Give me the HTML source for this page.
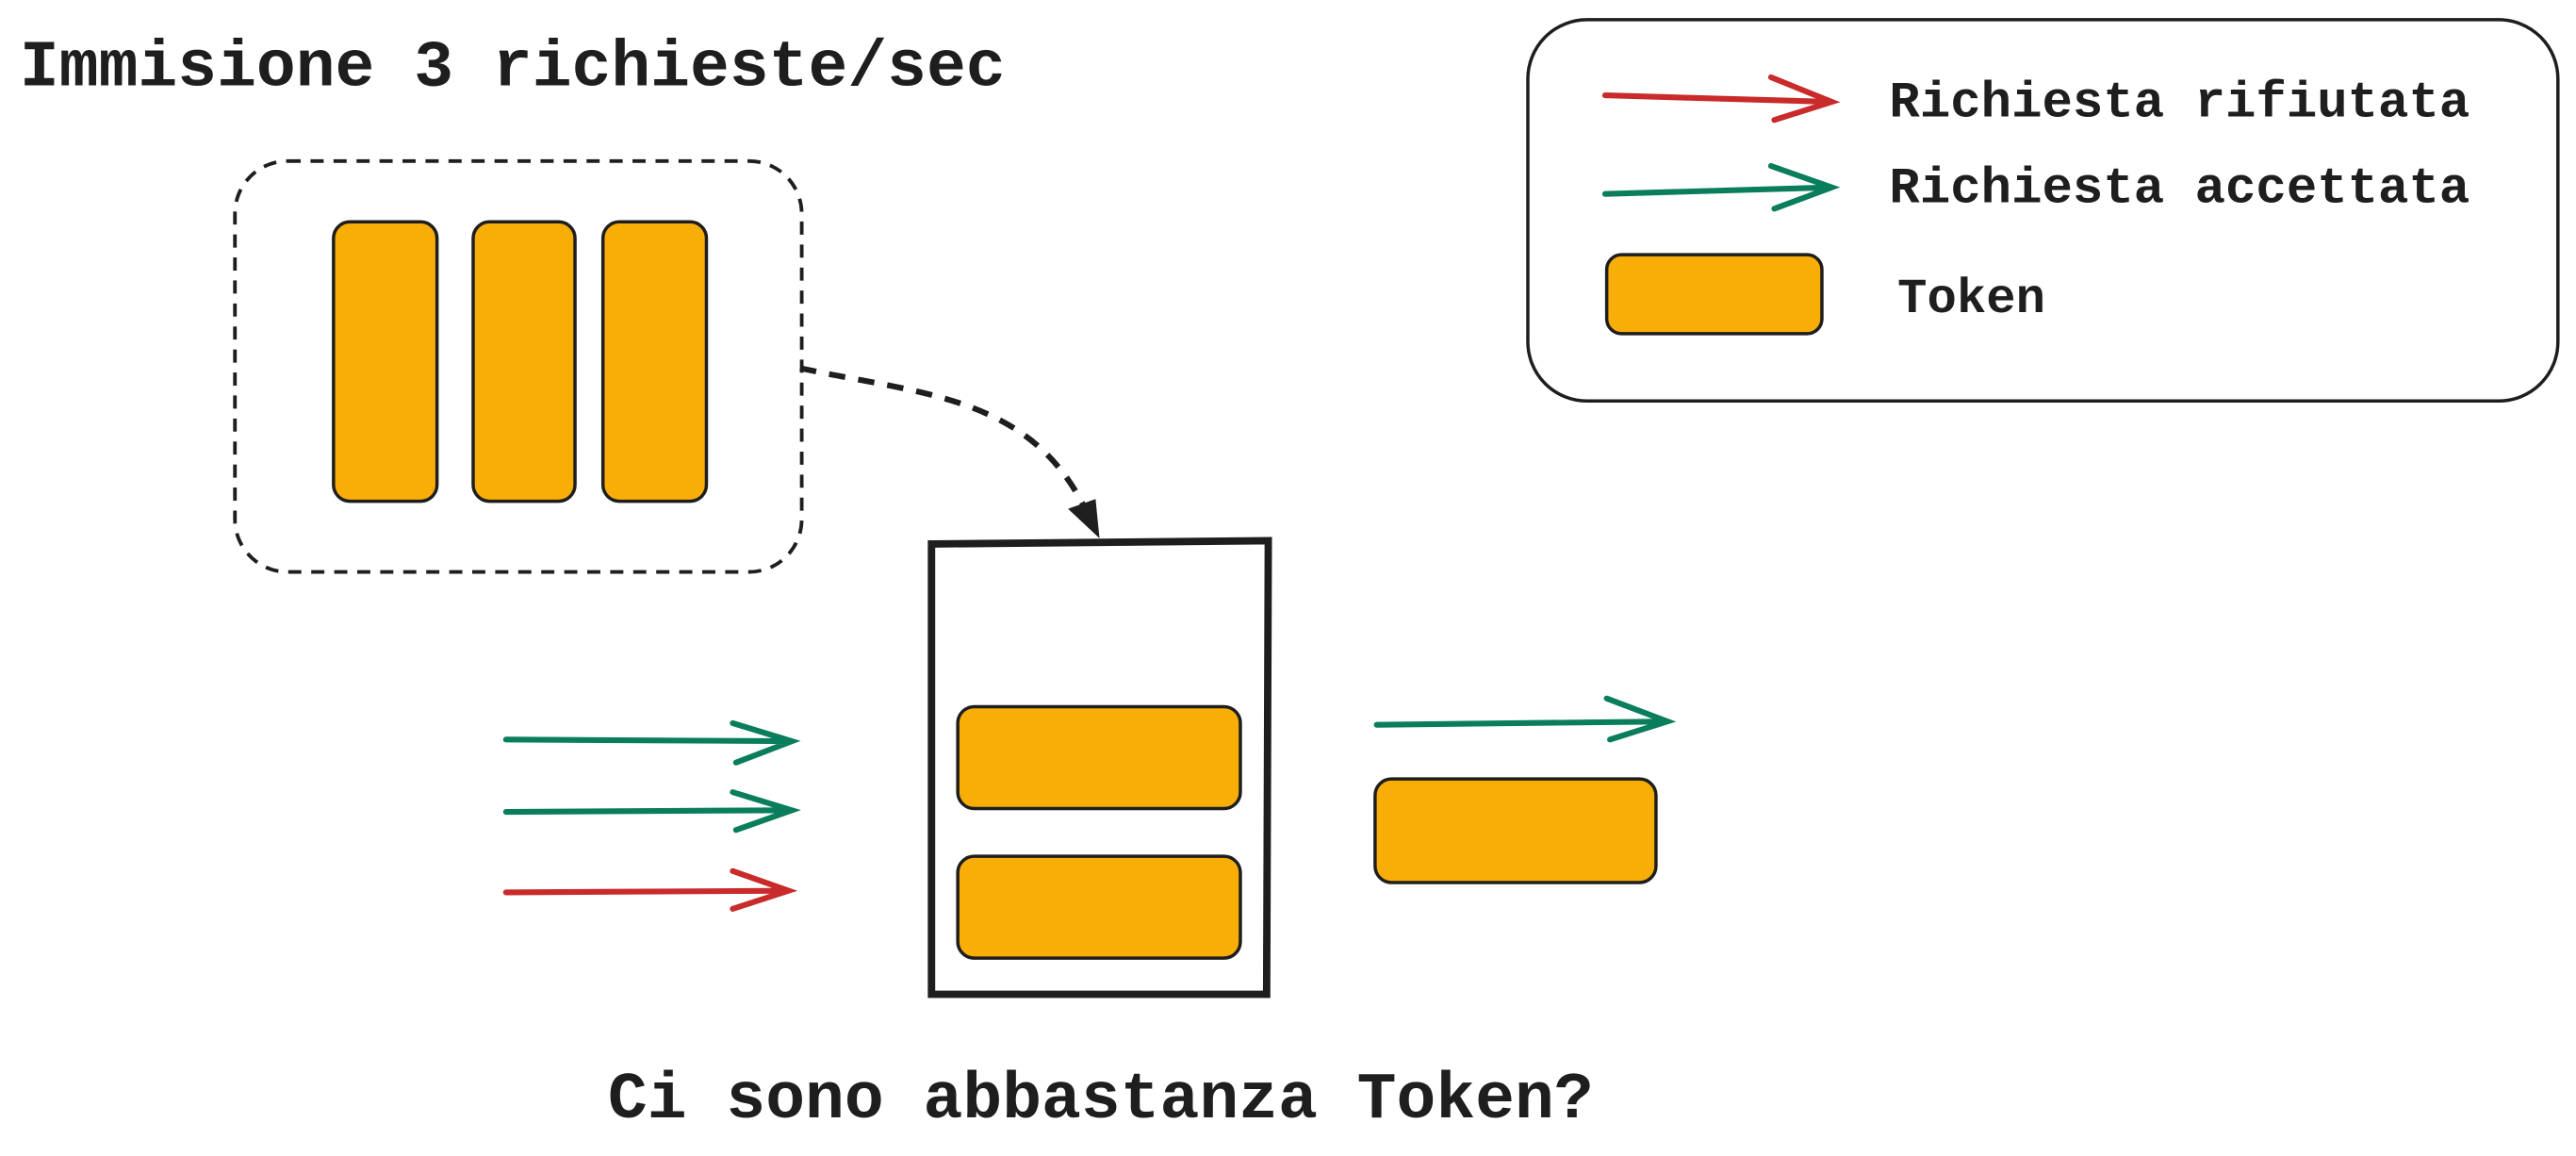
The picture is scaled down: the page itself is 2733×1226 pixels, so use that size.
<!DOCTYPE html>
<html><head><meta charset="utf-8"><style>
html,body{margin:0;padding:0;background:#fff;}
svg{display:block;}
text{font-family:"Liberation Mono",monospace;font-weight:bold;fill:#1e1e1e;}
</style></head><body>
<svg width="2733" height="1226" viewBox="0 0 1568 703.4" xmlns="http://www.w3.org/2000/svg">
<rect width="1568" height="703.4" fill="#fff"/>
<text x="12" y="52" font-size="40">Immisione 3 richieste/sec</text>
<rect x="143" y="98" width="345" height="250" rx="32" fill="none" stroke="#1e1e1e" stroke-width="2.2" stroke-dasharray="8,6"/>
<g fill="#f9ae07" stroke="#1e1e1e" stroke-width="2">
<rect x="203" y="135" width="63" height="170" rx="10"/>
<rect x="288" y="135" width="62" height="170" rx="10"/>
<rect x="367" y="135" width="63" height="170" rx="10"/>
<rect x="583" y="430" width="172" height="62" rx="10"/>
<rect x="583" y="521" width="172" height="62" rx="10"/>
<rect x="837" y="474" width="171" height="63" rx="10"/>
<rect x="978" y="155" width="131" height="48" rx="9"/>
</g>
<path d="M487 224 C560 240 630 240 663 315" fill="none" stroke="#1e1e1e" stroke-width="3.5" stroke-dasharray="10,8"/>
<path d="M652 310 L668 325 L666 305 Z" fill="#1e1e1e" stroke="#1e1e1e" stroke-width="2"/>
<path d="M567 331 L772 329 L771 605 L567 605 Z" fill="none" stroke="#1e1e1e" stroke-width="4.5"/>
<g fill="none" stroke-width="3.5" stroke-linecap="round">
<g stroke="#0a7e5c">
<path d="M308 450 L482 451 M446 440 L482 451 L448 464"/>
<path d="M308 494 L482 493 M446 482 L482 493 L448 505"/>
<path d="M838 441 L1015 439 M978 425 L1015 439 L980 450"/>
<path d="M977 118 L1115 114 M1078 101 L1115 114 L1080 127"/>
</g>
<g stroke="#c92a2a">
<path d="M308 543 L480 542 M446 530 L480 542 L446 553"/>
<path d="M977 58 L1115 62 M1078 47 L1115 62 L1080 73"/>
</g>
</g>
<text x="370" y="680" font-size="40">Ci sono abbastanza Token?</text>
<rect x="930" y="12" width="627" height="232" rx="36" fill="none" stroke="#1e1e1e" stroke-width="2"/>
<text x="1150" y="71" font-size="31">Richiesta rifiutata</text>
<text x="1150" y="123" font-size="31">Richiesta accettata</text>
<text x="1155" y="190" font-size="30">Token</text>
</svg>
</body></html>
